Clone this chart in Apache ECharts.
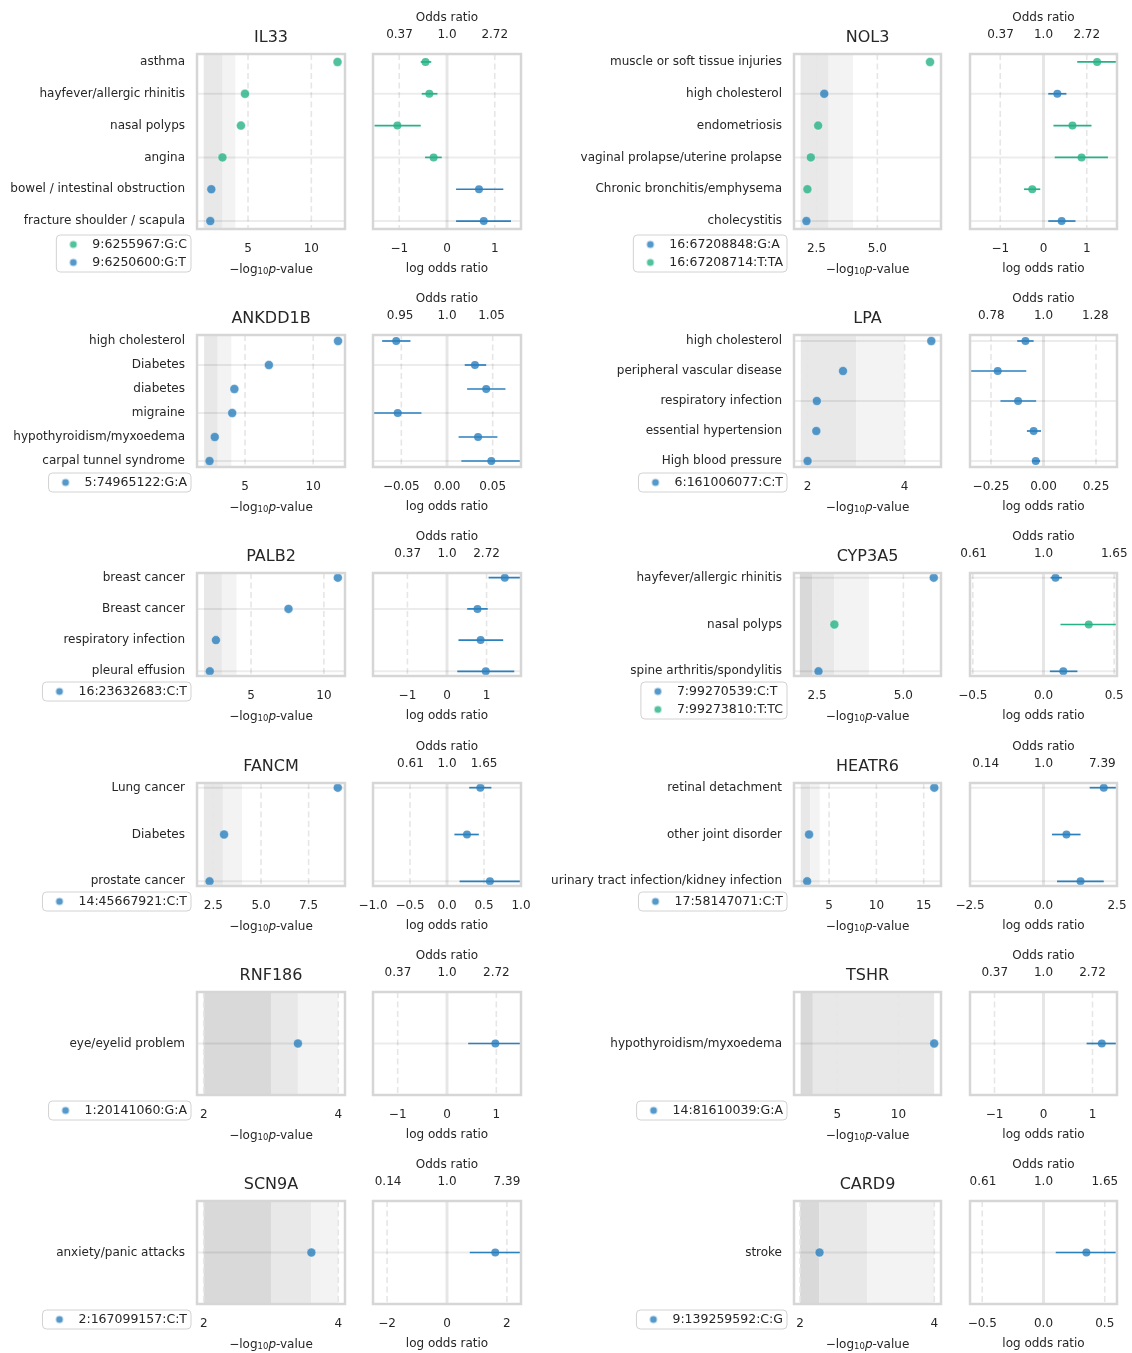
<!DOCTYPE html>
<html>
<head>
<meta charset="utf-8">
<title>PheWAS panels</title>
<script src="https://cdn.jsdelivr.net/npm/echarts@6/dist/echarts.min.js"></script>
<style>
  html, body { margin: 0; padding: 0; background: #fff; }
  #chart { width: 1132px; height: 1353px; }
</style>
</head>
<body>
<div id="chart"></div>
<script>
// ---------- shared tick sets (log odds axis and odds ratio axis) ----------
const TICKS_1 = ['−1', '0', '1'];
const OR_TOP_1 = ['0.37', '1.0', '2.72'];
const OR_TOP_HALF = ['0.61', '1.0', '1.65'];
const OR_TOP_2 = ['0.14', '1.0', '7.39'];

// ---------- IL33 ----------
const il33Traits = ['asthma', 'hayfever/allergic rhinitis', 'nasal polyps', 'angina', 'bowel / intestinal obstruction', 'fracture shoulder / scapula'];
const il33Variants = ['9:6255967:G:C', '9:6250600:G:T'];
const il33Allele = [0, 0, 0, 0, 1, 1];
const il33LogP = [12.07, 4.76, 4.44, 2.98, 2.10, 2.02];
const il33LogOR = [-0.45, -0.37, -1.04, -0.28, 0.67, 0.77];
const il33Lower = [-0.55, -0.53, -1.52, -0.46, 0.19, 0.19];
const il33Upper = [-0.33, -0.20, -0.55, -0.11, 1.18, 1.34];
const il33PRange = [0.97, 12.66];
const il33PTicks = ['5', '10'];
const il33Bands = [[1.5, 3, 2], [3, 4, 1]];
const il33OrLimit = 1.55;

// ---------- ANKDD1B ----------
const ankTraits = ['high cholesterol', 'Diabetes', 'diabetes', 'migraine', 'hypothyroidism/myxoedema', 'carpal tunnel syndrome'];
const ankVariants = ['5:74965122:G:A'];
const ankAllele = [0, 0, 0, 0, 0, 0];
const ankLogP = [11.82, 6.75, 4.22, 4.06, 2.78, 2.40];
const ankLogOR = [-0.0556, 0.0306, 0.0429, -0.0540, 0.0340, 0.0485];
const ankLower = [-0.0710, 0.0194, 0.0220, -0.0810, 0.0127, 0.0157];
const ankUpper = [-0.0400, 0.0429, 0.0640, -0.0280, 0.0552, 0.0850];
const ankPRange = [1.48, 12.33];
const ankPTicks = ['5', '10'];
const ankBands = [[2, 3, 2], [3, 4, 1]];
const ankOrLimit = 0.081;
const ankOrTicks = ['−0.05', '0.00', '0.05'];
const ankOrTop = ['0.95', '1.0', '1.05'];

// ---------- PALB2 ----------
const palb2Traits = ['breast cancer', 'Breast cancer', 'respiratory infection', 'pleural effusion'];
const palb2Variants = ['16:23632683:C:T'];
const palb2Allele = [0, 0, 0, 0];
const palb2LogP = [10.96, 7.57, 2.59, 2.17];
const palb2LogOR = [1.46, 0.77, 0.85, 0.98];
const palb2Lower = [1.05, 0.51, 0.29, 0.26];
const palb2Upper = [1.95, 1.03, 1.42, 1.70];
const palb2PRange = [1.29, 11.45];
const palb2PTicks = ['5', '10'];
const palb2Bands = [[1.77, 3, 2], [3, 4, 1]];
const palb2OrLimit = 1.87;

// ---------- FANCM ----------
const fancmTraits = ['Lung cancer', 'Diabetes', 'prostate cancer'];
const fancmVariants = ['14:45667921:C:T'];
const fancmAllele = [0, 0, 0];
const fancmLogP = [9.03, 3.06, 2.30];
const fancmLogOR = [0.45, 0.27, 0.58];
const fancmLower = [0.30, 0.10, 0.17];
const fancmUpper = [0.60, 0.43, 1.05];
const fancmPRange = [1.64, 9.41];
const fancmPTicks = ['2.5', '5.0', '7.5'];
const fancmBands = [[2, 3, 2], [3, 4, 1]];
const fancmOrLimit = 1.0;
const fancmOrTicks = ['−1.0', '−0.5', '0.0', '0.5', '1.0'];

// ---------- RNF186 ----------
const rnfTraits = ['eye/eyelid problem'];
const rnfVariants = ['1:20141060:G:A'];
const rnfAllele = [0];
const rnfLogP = [3.40];
const rnfLogOR = [0.98];
const rnfLower = [0.43];
const rnfUpper = [1.60];
const rnfPRange = [1.90, 4.10];
const rnfPTicks = ['2', '4'];
const rnfBands = [[2, 3, 3], [3, 3.40, 2], [3.40, 4, 1]];
const rnfOrLimit = 1.5;

// ---------- SCN9A ----------
const scnTraits = ['anxiety/panic attacks'];
const scnVariants = ['2:167099157:C:T'];
const scnAllele = [0];
const scnLogP = [3.60];
const scnLogOR = [1.61];
const scnLower = [0.76];
const scnUpper = [2.60];
const scnPRange = [1.90, 4.10];
const scnPTicks = ['2', '4'];
const scnBands = [[2, 3, 3], [3, 3.60, 2], [3.60, 4, 1]];
const scnOrLimit = 2.47;
const scnOrTicks = ['−2', '0', '2'];

// ---------- NOL3 ----------
const nol3Traits = ['muscle or soft tissue injuries', 'high cholesterol', 'endometriosis', 'vaginal prolapse/uterine prolapse', 'Chronic bronchitis/emphysema', 'cholecystitis'];
const nol3Variants = ['16:67208848:G:A', '16:67208714:T:TA'];
const nol3Allele = [1, 0, 1, 1, 1, 0];
const nol3LogP = [7.16, 2.82, 2.57, 2.27, 2.13, 2.09];
const nol3LogOR = [1.24, 0.32, 0.67, 0.88, -0.26, 0.42];
const nol3Lower = [0.78, 0.11, 0.23, 0.26, -0.45, 0.11];
const nol3Upper = [1.70, 0.53, 1.11, 1.49, -0.075, 0.74];
const nol3PRange = [1.58, 7.61];
const nol3PTicks = ['2.5', '5.0'];
const nol3Bands = [[1.85, 3, 2], [3, 4, 1]];
const nol3OrLimit = 1.7;

// ---------- LPA ----------
const lpaTraits = ['high cholesterol', 'peripheral vascular disease', 'respiratory infection', 'essential hypertension', 'High blood pressure'];
const lpaVariants = ['6:161006077:C:T'];
const lpaAllele = [0, 0, 0, 0, 0];
const lpaLogP = [4.55, 2.73, 2.19, 2.18, 2.00];
const lpaLogOR = [-0.086, -0.218, -0.121, -0.047, -0.037];
const lpaLower = [-0.125, -0.350, -0.205, -0.079, -0.054];
const lpaUpper = [-0.047, -0.082, -0.035, -0.012, -0.016];
const lpaPRange = [1.72, 4.75];
const lpaPTicks = ['2', '4'];
const lpaBands = [[1.86, 3, 2], [3, 4, 1]];
const lpaOrLimit = 0.35;
const lpaOrTicks = ['−0.25', '0.00', '0.25'];
const lpaOrTop = ['0.78', '1.0', '1.28'];

// ---------- CYP3A5 ----------
const cypTraits = ['hayfever/allergic rhinitis', 'nasal polyps', 'spine arthritis/spondylitis'];
const cypVariants = ['7:99270539:C:T', '7:99273810:T:TC'];
const cypAllele = [0, 1, 0];
const cypLogP = [5.88, 3.00, 2.54];
const cypLogOR = [0.085, 0.32, 0.14];
const cypLower = [0.05, 0.12, 0.045];
const cypUpper = [0.13, 0.53, 0.24];
const cypPRange = [1.83, 6.09];
const cypPTicks = ['2.5', '5.0'];
const cypBands = [[2, 2.37, 3], [2.37, 3, 2], [3, 4, 1]];
const cypOrLimit = 0.52;
const cypOrTicks = ['−0.5', '0.0', '0.5'];

// ---------- HEATR6 ----------
const heatTraits = ['retinal detachment', 'other joint disorder', 'urinary tract infection/kidney infection'];
const heatVariants = ['17:58147071:C:T'];
const heatAllele = [0, 0, 0];
const heatLogP = [16.12, 2.88, 2.68];
const heatLogOR = [2.05, 0.78, 1.26];
const heatLower = [1.57, 0.29, 0.46];
const heatUpper = [2.60, 1.26, 2.05];
const heatPRange = [1.29, 16.83];
const heatPTicks = ['5', '10', '15'];
const heatBands = [[2, 3, 2], [3, 4, 1]];
const heatOrLimit = 2.5;
const heatOrTicks = ['−2.5', '0.0', '2.5'];

// ---------- TSHR ----------
const tshrTraits = ['hypothyroidism/myxoedema'];
const tshrVariants = ['14:81610039:G:A'];
const tshrAllele = [0];
const tshrLogP = [12.92];
const tshrLogOR = [1.19];
const tshrLower = [0.88];
const tshrUpper = [1.49];
const tshrPRange = [1.46, 13.48];
const tshrPTicks = ['5', '10'];
const tshrBands = [[2, 3, 3], [3, 12.92, 2]];
const tshrOrLimit = 1.5;

// ---------- CARD9 ----------
const card9Traits = ['stroke'];
const card9Variants = ['9:139259592:C:G'];
const card9Allele = [0];
const card9LogP = [2.29];
const card9LogOR = [0.35];
const card9Lower = [0.10];
const card9Upper = [0.59];
const card9PRange = [1.91, 4.10];
const card9PTicks = ['2', '4'];
const card9Bands = [[2, 2.29, 3], [2.29, 3, 2], [3, 4, 1]];
const card9OrLimit = 0.6;
const card9OrTicks = ['−0.5', '0.0', '0.5'];

// ---------- styling ----------
const FONT = 'DejaVu Sans';
const TXT = '#262626';
const BLUE = '#2b80be';
const GREEN = '#26b286';
const FRAME = '#d6d6d6';
const HLINE = 'rgba(0,0,0,0.075)';
const DASH = '#e6e6e6';
const ZERO = '#e6e6e6';
const SHADE = [null, '#f3f3f3', '#e8e8e8', '#d9d9d9'];

const COLS = [
  { p: [197, 148], o: [373, 148], legendRight: 941 },
  { p: [794, 147], o: [970, 147], legendRight: 345 }
];
const ROWS = [[54, 175], [335, 132], [573, 103], [783, 103], [992, 103], [1201, 103]];

const panels = [
  { gene: 'IL33', traits: il33Traits, variants: il33Variants, colors: [GREEN, BLUE], allele: il33Allele, logp: il33LogP, logor: il33LogOR, lower: il33Lower, upper: il33Upper, pRange: il33PRange, pTicks: il33PTicks, bands: il33Bands, orLimit: il33OrLimit, orTicks: TICKS_1, orTop: OR_TOP_1 },
  { gene: 'ANKDD1B', traits: ankTraits, variants: ankVariants, colors: [BLUE], allele: ankAllele, logp: ankLogP, logor: ankLogOR, lower: ankLower, upper: ankUpper, pRange: ankPRange, pTicks: ankPTicks, bands: ankBands, orLimit: ankOrLimit, orTicks: ankOrTicks, orTop: ankOrTop },
  { gene: 'PALB2', traits: palb2Traits, variants: palb2Variants, colors: [BLUE], allele: palb2Allele, logp: palb2LogP, logor: palb2LogOR, lower: palb2Lower, upper: palb2Upper, pRange: palb2PRange, pTicks: palb2PTicks, bands: palb2Bands, orLimit: palb2OrLimit, orTicks: TICKS_1, orTop: OR_TOP_1 },
  { gene: 'FANCM', traits: fancmTraits, variants: fancmVariants, colors: [BLUE], allele: fancmAllele, logp: fancmLogP, logor: fancmLogOR, lower: fancmLower, upper: fancmUpper, pRange: fancmPRange, pTicks: fancmPTicks, bands: fancmBands, orLimit: fancmOrLimit, orTicks: fancmOrTicks, orTop: OR_TOP_HALF },
  { gene: 'RNF186', traits: rnfTraits, variants: rnfVariants, colors: [BLUE], allele: rnfAllele, logp: rnfLogP, logor: rnfLogOR, lower: rnfLower, upper: rnfUpper, pRange: rnfPRange, pTicks: rnfPTicks, bands: rnfBands, orLimit: rnfOrLimit, orTicks: TICKS_1, orTop: OR_TOP_1 },
  { gene: 'SCN9A', traits: scnTraits, variants: scnVariants, colors: [BLUE], allele: scnAllele, logp: scnLogP, logor: scnLogOR, lower: scnLower, upper: scnUpper, pRange: scnPRange, pTicks: scnPTicks, bands: scnBands, orLimit: scnOrLimit, orTicks: scnOrTicks, orTop: OR_TOP_2 },
  { gene: 'NOL3', traits: nol3Traits, variants: nol3Variants, colors: [BLUE, GREEN], allele: nol3Allele, logp: nol3LogP, logor: nol3LogOR, lower: nol3Lower, upper: nol3Upper, pRange: nol3PRange, pTicks: nol3PTicks, bands: nol3Bands, orLimit: nol3OrLimit, orTicks: TICKS_1, orTop: OR_TOP_1 },
  { gene: 'LPA', traits: lpaTraits, variants: lpaVariants, colors: [BLUE], allele: lpaAllele, logp: lpaLogP, logor: lpaLogOR, lower: lpaLower, upper: lpaUpper, pRange: lpaPRange, pTicks: lpaPTicks, bands: lpaBands, orLimit: lpaOrLimit, orTicks: lpaOrTicks, orTop: lpaOrTop },
  { gene: 'CYP3A5', traits: cypTraits, variants: cypVariants, colors: [BLUE, GREEN], allele: cypAllele, logp: cypLogP, logor: cypLogOR, lower: cypLower, upper: cypUpper, pRange: cypPRange, pTicks: cypPTicks, bands: cypBands, orLimit: cypOrLimit, orTicks: cypOrTicks, orTop: OR_TOP_HALF },
  { gene: 'HEATR6', traits: heatTraits, variants: heatVariants, colors: [BLUE], allele: heatAllele, logp: heatLogP, logor: heatLogOR, lower: heatLower, upper: heatUpper, pRange: heatPRange, pTicks: heatPTicks, bands: heatBands, orLimit: heatOrLimit, orTicks: heatOrTicks, orTop: OR_TOP_2 },
  { gene: 'TSHR', traits: tshrTraits, variants: tshrVariants, colors: [BLUE], allele: tshrAllele, logp: tshrLogP, logor: tshrLogOR, lower: tshrLower, upper: tshrUpper, pRange: tshrPRange, pTicks: tshrPTicks, bands: tshrBands, orLimit: tshrOrLimit, orTicks: TICKS_1, orTop: OR_TOP_1 },
  { gene: 'CARD9', traits: card9Traits, variants: card9Variants, colors: [BLUE], allele: card9Allele, logp: card9LogP, logor: card9LogOR, lower: card9Lower, upper: card9Upper, pRange: card9PRange, pTicks: card9PTicks, bands: card9Bands, orLimit: card9OrLimit, orTicks: card9OrTicks, orTop: OR_TOP_HALF }
];

// ---------- helpers ----------
const num = s => parseFloat(String(s).replace('−', '-'));
const labelAt = (labels, values) => v => {
  const i = values.findIndex(t => Math.abs(t - v) < 1e-6);
  return i >= 0 ? labels[i] : '';
};
const LABEL = { fontFamily: FONT, fontSize: 12, color: TXT };
const hidden = { axisLine: { show: false }, axisTick: { show: false }, splitLine: { show: false } };

// full-height vertical line at an x value of the grid
function vLineItem(params, api) {
  const cs = params.coordSys;
  const x = api.coord([api.value(0), 0])[0];
  const solid = api.value(1) === 1;
  return {
    type: 'line',
    shape: { x1: x, y1: cs.y, x2: x, y2: cs.y + cs.height },
    style: solid ? { stroke: ZERO, lineWidth: 3 } : { stroke: DASH, lineWidth: 1.6, lineDash: [6, 3.5] }
  };
}
// full-width horizontal line at a trait row
function hLineItem(params, api) {
  const cs = params.coordSys;
  const y = api.coord([api.value(0), api.value(1)])[1];
  return {
    type: 'line',
    shape: { x1: cs.x, y1: y, x2: cs.x + cs.width, y2: y },
    style: { stroke: HLINE, lineWidth: 2 }
  };
}
// shaded significance band between two -log10 p values
function bandItem(params, api) {
  const cs = params.coordSys;
  const x0 = api.coord([api.value(0), 0])[0];
  const x1 = api.coord([api.value(1), 0])[0];
  return {
    type: 'rect',
    shape: { x: x0, y: cs.y, width: x1 - x0, height: cs.height },
    style: { fill: SHADE[api.value(2)] }
  };
}

const option = {
  animation: false,
  backgroundColor: '#fff',
  textStyle: { fontFamily: FONT },
  grid: [], xAxis: [], yAxis: [], series: [], legend: [], graphic: []
};

panels.forEach((pn, k) => {
  const col = COLS[Math.floor(k / 6)];
  const [top, height] = ROWS[k % 6];
  const n = pn.traits.length;
  const pad = n > 1 ? 0.05 * (n - 1) : 0.5;
  const gP = 2 * k, gO = 2 * k + 1;
  const xP = 3 * k, xO = 3 * k + 1;

  [col.p, col.o].forEach(([left, width]) => option.grid.push({
    left, width, top, height, show: true, z: 10,
    backgroundColor: 'transparent', borderColor: FRAME, borderWidth: 2.5
  }));

  // -log10 p axis
  const pVals = pn.pTicks.map(num);
  option.xAxis.push({
    type: 'value', gridIndex: gP, min: pn.pRange[0], max: pn.pRange[1], ...hidden,
    axisLabel: { ...LABEL, margin: 14, customValues: pVals, formatter: labelAt(pn.pTicks, pVals) },
    name: '{t|−log}{s|10}{i|p}{t|-value}', nameLocation: 'middle', nameGap: 31,
    nameTextStyle: {
      color: TXT, fontSize: 12,
      rich: {
        t: { fontFamily: FONT, fontSize: 12, color: TXT, lineHeight: 16, verticalAlign: 'bottom' },
        i: { fontFamily: FONT, fontSize: 12, color: TXT, fontStyle: 'italic', lineHeight: 16, verticalAlign: 'bottom' },
        s: { fontFamily: FONT, fontSize: 8.5, color: TXT, lineHeight: 8, verticalAlign: 'bottom' }
      }
    }
  });
  // log odds ratio axis (bottom)
  const oVals = pn.orTicks.map(num);
  option.xAxis.push({
    type: 'value', gridIndex: gO, min: -pn.orLimit, max: pn.orLimit, ...hidden,
    axisLabel: { ...LABEL, margin: 14, customValues: oVals, formatter: labelAt(pn.orTicks, oVals) },
    name: 'log odds ratio', nameLocation: 'middle', nameGap: 34,
    nameTextStyle: { ...LABEL }
  });
  // odds ratio axis (top), placed at the log of each odds ratio
  const tVals = pn.orTop.map(s => Math.log(num(s)));
  option.xAxis.push({
    type: 'value', gridIndex: gO, position: 'top', min: -pn.orLimit, max: pn.orLimit, ...hidden,
    axisLabel: { ...LABEL, margin: 13, customValues: tVals, formatter: labelAt(pn.orTop, tVals) },
    name: 'Odds ratio', nameLocation: 'middle', nameGap: 30,
    nameTextStyle: { ...LABEL }
  });

  const rows = pn.traits.map((_, i) => i);
  option.yAxis.push({
    type: 'value', gridIndex: gP, inverse: true, min: -pad, max: n - 1 + pad, ...hidden,
    axisLabel: { ...LABEL, margin: 12, customValues: rows, formatter: v => pn.traits[Math.round(v)] }
  });
  option.yAxis.push({
    type: 'value', gridIndex: gO, inverse: true, min: -pad, max: n - 1 + pad, ...hidden,
    axisLabel: { show: false }
  });

  const onP = { coordinateSystem: 'cartesian2d', xAxisIndex: xP, yAxisIndex: gP };
  const onO = { coordinateSystem: 'cartesian2d', xAxisIndex: xO, yAxisIndex: gO };
  const gridRows = rows.filter(i => (n - 1 - i) % 2 === 0);

  option.series.push(
    { type: 'custom', ...onP, z: 1, clip: true, silent: true, renderItem: bandItem, data: pn.bands },
    { type: 'custom', ...onP, z: 2, clip: true, silent: true, renderItem: vLineItem, data: pVals.map(v => [v, 0]) },
    { type: 'custom', ...onP, z: 3, silent: true, renderItem: hLineItem, data: gridRows.map(i => [pn.pRange[0], i]) },
    { type: 'custom', ...onO, z: 2, clip: true, silent: true, renderItem: vLineItem,
      data: oVals.filter(v => v !== 0).map(v => [v, 0]).concat([[0, 1]]) },
    { type: 'custom', ...onO, z: 3, silent: true, renderItem: hLineItem, data: gridRows.map(i => [0, i]) }
  );

  pn.variants.forEach((variant, vi) => {
    const color = pn.colors[vi];
    const idx = rows.filter(i => pn.allele[i] === vi);
    option.series.push({
      type: 'scatter', name: variant, ...onP, z: 5, symbol: 'circle', symbolSize: 9,
      itemStyle: { color, opacity: 0.8, borderColor: 'rgba(255,255,255,0.7)', borderWidth: 0.8 },
      data: idx.map(i => [pn.logp[i], i])
    });
    option.series.push({
      type: 'custom', name: variant + ' interval', ...onO, z: 4, clip: true, silent: true,
      renderItem: (params, api) => {
        const y = api.value(1);
        const a = api.coord([api.value(2), y]);
        const b = api.coord([api.value(3), y]);
        return { type: 'line', shape: { x1: a[0], y1: a[1], x2: b[0], y2: b[1] }, style: { stroke: color, lineWidth: 1.7 } };
      },
      data: idx.map(i => [pn.logor[i], i, pn.lower[i], pn.upper[i]])
    });
    option.series.push({
      type: 'scatter', name: variant + ' estimate', ...onO, z: 5, symbol: 'circle', symbolSize: 8,
      itemStyle: { color },
      data: idx.map(i => [pn.logor[i], i])
    });
  });

  option.legend.push({
    data: pn.variants, orient: 'vertical', align: 'left',
    right: col.legendRight, top: top + height + 6,
    icon: 'circle', itemWidth: 8, itemHeight: 8, itemGap: 5, selectedMode: false,
    backgroundColor: '#fff', borderColor: '#d2d2d2', borderWidth: 1, borderRadius: 4,
    padding: [3, 4, 3, 12],
    textStyle: { fontFamily: FONT, fontSize: 12.5, color: TXT, padding: [0, 0, 0, 10] }
  });

  option.graphic.push({
    type: 'text', x: col.p[0] + col.p[1] / 2, y: top - 16,
    style: { text: pn.gene, font: '16px "DejaVu Sans"', fill: TXT, align: 'center', verticalAlign: 'middle', textAlign: 'center', textVerticalAlign: 'middle' }
  });
});

const chart = echarts.init(document.getElementById('chart'), null, { renderer: 'canvas' });
chart.setOption(option);
</script>
</body>
</html>
